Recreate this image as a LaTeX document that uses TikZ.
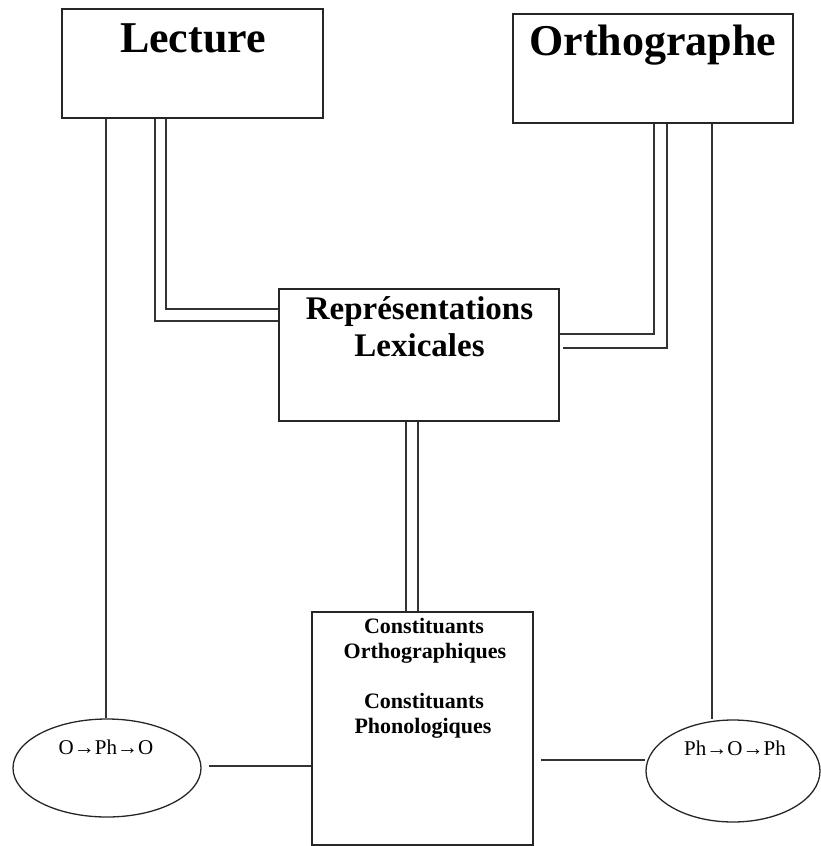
\documentclass[tikz,border=0pt]{standalone}
\usepackage{fontspec}
\setmainfont{Liberation Serif}
\usetikzlibrary{shapes.geometric}
\tikzset{
  box/.style={draw=black!85, line width=1.5pt, rectangle, inner sep=0pt},
  oval/.style={draw=black!85, line width=1.3pt, ellipse, inner sep=0pt},
  conn/.style={draw=black!80, line width=1.4pt},
  big/.style={font=\bfseries\fontsize{44}{48}\selectfont, inner sep=0pt, anchor=base},
  mid/.style={font=\bfseries\fontsize{33}{37}\selectfont, inner sep=0pt, anchor=base},
  small/.style={font=\bfseries\fontsize{22}{25}\selectfont, inner sep=0pt, anchor=base},
  ovtext/.style={font=\fontsize{21}{24}\selectfont, inner sep=0pt, anchor=base},
}
\begin{document}
\begin{tikzpicture}[x=1pt,y=-1pt]
\useasboundingbox (0,0) rectangle (821,846);
% boxes
\node[box, minimum width=261pt, minimum height=109pt] (lec) at (192.5,63.5) {};
\node[box, minimum width=280pt, minimum height=109pt] (ort) at (653,68.5) {};
\node[box, minimum width=280pt, minimum height=132pt] (rep) at (419,355) {};
\node[box, minimum width=221pt, minimum height=233pt] (con) at (422.5,728.5) {};
\node[oval, minimum width=188pt, minimum height=98pt] (ell1) at (107,768) {};
\node[oval, minimum width=174pt, minimum height=102pt] (ell2) at (733,771) {};
% texts
\node[big] (tlec) at (193,52) {Lecture};
\node[big] (tort) at (653,55) {Orthographe};
\node[mid] (trep1) at (419.5,319) {Représentations};
\node[mid] (trep2) at (419.5,356) {Lexicales};
\node[small] (tc1) at (424,633) {Constituants};
\node[small] (tc2) at (425,658) {Orthographiques};
\node[small] (tc3) at (424,708) {Constituants};
\node[small] (tc4) at (423,733) {Phonologiques};
\node[ovtext] (te1) at (106,754) {O→Ph→O};
\node[ovtext] (te2) at (735,755) {Ph→O→Ph};
% helper coordinates
\coordinate (xa) at (155,0);
\coordinate (xb) at (166,0);
\coordinate (xc) at (654,0);
\coordinate (xd) at (667,0);
\coordinate (xe) at (406,0);
\coordinate (xf) at (418,0);
\coordinate (xl) at (106,0);
\coordinate (xr) at (712,0);
\coordinate (ya) at (0,321);
\coordinate (yb) at (0,309);
\coordinate (yc) at (0,334);
\coordinate (yd) at (0,348);
\coordinate (ye) at (0,766);
\coordinate (yf) at (0,760);
\coordinate (l1) at (209,766);
\coordinate (r1) at (541,760);
% connectors
\draw[conn] (lec.south -| xl) -- (ell1.north -| xl);
\draw[conn] (ort.south -| xr) -- (ell2.north -| xr);
\draw[conn] (lec.south -| xa) |- (rep.west |- ya);
\draw[conn] (lec.south -| xb) |- (rep.west |- yb);
\draw[conn] (ort.south -| xc) |- (rep.east |- yc);
\draw[conn] (ort.south -| xd) |- ([xshift=3pt]rep.east |- yd);
\draw[conn] (rep.south -| xe) -- (con.north -| xe);
\draw[conn] (rep.south -| xf) -- (con.north -| xf);
\draw[conn] (l1) -- (con.west |- ye);
\draw[conn] (r1) -- (ell2.west |- yf);
\end{tikzpicture}
\end{document}
